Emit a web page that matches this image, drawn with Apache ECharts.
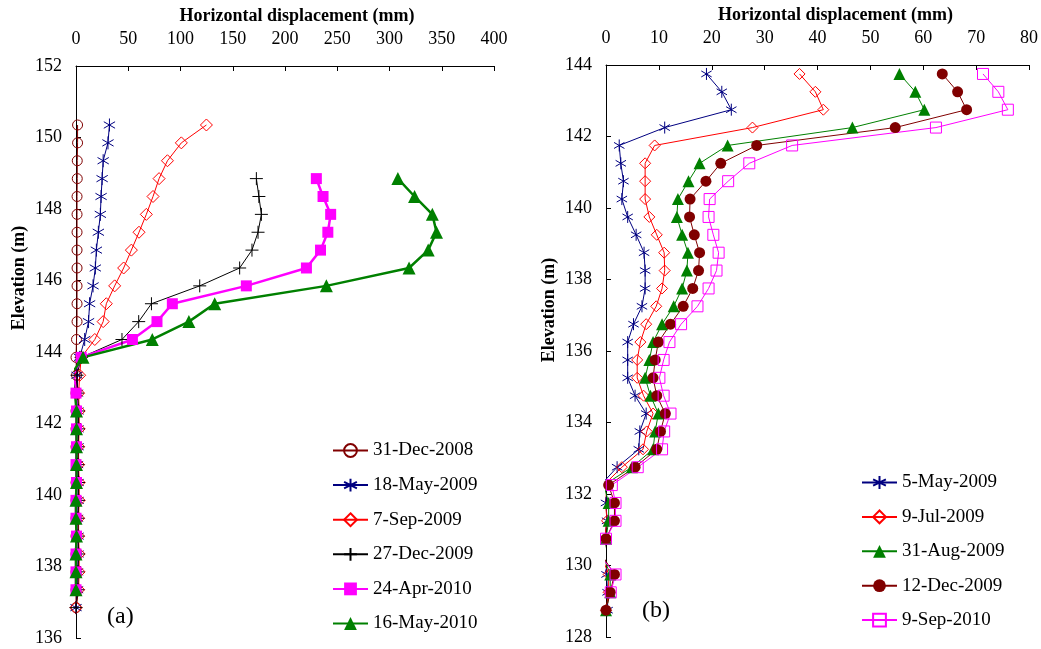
<!DOCTYPE html>
<html>
<head>
<meta charset="utf-8">
<script src="https://cdn.jsdelivr.net/npm/echarts@6/dist/echarts.min.js"></script>
<style>html,body{margin:0;padding:0;background:#fff;}#chart{width:1041px;height:649px;}</style>
</head>
<body>
<div id="chart"></div>
<script>
// ---------- Panel (a) ----------
const elevA = [150.35,149.85,149.35,148.85,148.35,147.85,147.35,146.85,146.35,145.85,145.35,144.85,144.35,143.85,143.35,142.85,142.35,141.85,141.35,140.85,140.35,139.85,139.35,138.85,138.35,137.85,137.35,136.85];
const a_31Dec2008 = [1.5,1.5,1.2,1.2,1,1,1,1,1,1,1,1,0.5,0,0.5,0,0,0,0,-1,0,0,0,0,0,0,0,0];
const a_18May2009 = [32,30.6,26,25,24,23.3,21.4,19.5,18.5,16.3,13,12,8.3,3.5,1,1.5,2,2,2,1.5,2,2,1.5,2,2,1.5,1.5,0];
const a_7Sep2009  = [124.8,100.8,87.5,79.5,73.7,67.3,60.3,53,45.6,37,29,26,18,5,3.5,2.5,3,3,2.5,2.5,3,3,2.5,2.5,3,3,2.5,0];
const a_27Dec2009 = [null,null,null,172.6,175,177.4,174.2,168.4,156.6,118.4,72.2,60,44,5,1,1.5,2.5,2.5,2,2,2.5,2.5,2,2,2.5,2,2,0];
const a_24Apr2010 = [null,null,null,230,236.4,243.7,241,234,220.5,163,92.2,77.5,54,5,-2,0,0.5,0.5,0.5,0,0.5,0,0,0.5,0,0,0,null];
const a_16May2010 = [null,null,null,308,324,341,345,337,318.7,239.6,132.7,108,73,6.7,-5,-1,0.5,0.5,0.5,0.5,0.5,0,0,0.5,0,0,0,null];

// ---------- Panel (b) ----------
const elevB = [143.75,143.25,142.75,142.25,141.75,141.25,140.75,140.25,139.75,139.25,138.75,138.25,137.75,137.25,136.75,136.25,135.75,135.25,134.75,134.25,133.75,133.25,132.75,132.25,131.75,131.25,130.75,130.25,129.75,129.25,128.75];
const b_5May2009  = [19,21.9,23.7,11.1,2.5,2.8,3.3,3.0,4.1,5.7,7.2,7.4,7.4,6.8,5.2,4.1,4.1,4.1,5.5,7.6,6.4,6.2,2.1,-1,0,0.2,-0.3,-1,0.1,0.3,0.3];
const b_9Jul2009  = [36.6,39.6,41.1,27.7,9.2,7.4,7.4,7.4,8.2,9.6,11.0,11.1,10.6,9.5,7.6,6.5,5.9,5.9,7.1,8.9,7.7,7.0,3.0,-0.4,-0.1,0.2,-0.3,-0.8,0.5,0.5,0];
const b_31Aug2009 = [55.5,58.5,60.2,46.6,23.0,17.7,15.6,13.6,13.4,14.4,15.5,15.3,14.4,12.8,10.6,8.9,8.2,7.4,8.4,9.9,9.3,8.9,4.9,-0.4,0.5,0.5,0,-0.5,0.8,0.8,0];
const b_12Dec2009 = [63.6,66.5,68.2,54.7,28.5,21.7,18.9,15.9,15.8,16.7,17.7,17.5,16.4,14.6,12.2,9.9,9.3,8.9,9.6,11.2,10.3,9.6,5.5,0.5,1.6,1.6,0,-0.6,1.6,0.8,0];
const b_9Sep2010  = [71.3,74.2,76.0,62.4,35.2,27.1,23.1,19.6,19.4,20.3,21.3,20.9,19.4,17.3,14.2,12.0,10.9,10.1,10.9,12.2,11.0,10.6,6.0,1.1,1.8,1.8,0,-1,1.8,0.9,null];

const FONT = 'Liberation Serif';
const ASTER = 'path://M0,-10L0,10M-8.66,-5L8.66,5M-8.66,5L8.66,-5';
const PLUS = 'path://M0,-10L0,10M-10,0L10,0';

function pts(xs, ys) {
  const out = [];
  xs.forEach((x, i) => { if (x !== null) out.push([x, ys[i]]); });
  return out;
}
function mk(name, xs, ys, idx, color, symbol, size, open, lw) {
  return {
    name, type: 'line', xAxisIndex: idx, yAxisIndex: idx,
    data: pts(xs, ys), symbol, symbolSize: size, symbolKeepAspect: true,
    clip: true,
    lineStyle: { color, width: lw },
    itemStyle: open ? { color: 'rgba(255,255,255,0)', borderColor: color, borderWidth: 1 }
                    : { color, borderColor: color, borderWidth: 0 },
    emphasis: { disabled: true },
    animation: false
  };
}

const xAxisCommon = (idx, max, interval, pad) => ({
  type: 'value', gridIndex: idx, position: 'top', min: 0, max, interval,
  name: 'Horizontal displacement (mm)', nameLocation: 'middle', nameGap: 39,
  nameTextStyle: { fontFamily: FONT, fontSize: 18, fontWeight: 'bold', color: '#000', padding: [0,0,0,pad] },
  axisLine: { show: true, lineStyle: { color: '#000', width: 1 } },
  axisTick: { show: true, inside: true, length: 5, lineStyle: { color: '#000' } },
  axisLabel: { fontFamily: FONT, fontSize: 18, color: '#000', margin: 18 },
  splitLine: { show: false }
});
const yAxisCommon = (idx, min, max, pad) => ({
  type: 'value', gridIndex: idx, min, max, interval: 2,
  name: 'Elevation (m)', nameLocation: 'middle', nameGap: 48,
  nameTextStyle: { fontFamily: FONT, fontSize: 18, fontWeight: 'bold', color: '#000', padding: [0,0,0,pad] },
  axisLine: { show: true, lineStyle: { color: '#000', width: 1 } },
  axisTick: { show: true, inside: true, length: 5, lineStyle: { color: '#000' } },
  axisLabel: { fontFamily: FONT, fontSize: 18, color: '#000', margin: 14 },
  splitLine: { show: false }
});

const chart = echarts.init(document.getElementById('chart'), null, { renderer: 'canvas' });
chart.setOption({
  backgroundColor: '#fff',
  animation: false,
  grid: [
    { left: 76, right: 547, top: 66, bottom: 11 },
    { left: 606, right: 12, top: 65, bottom: 12 }
  ],
  xAxis: [ xAxisCommon(0, 400, 50, 24), xAxisCommon(1, 80, 10, 36) ],
  yAxis: [ yAxisCommon(0, 136, 152, 148), yAxisCommon(1, 128, 144, 82) ],
  legend: [
    {
      data: ['31-Dec-2008','18-May-2009','7-Sep-2009','27-Dec-2009','24-Apr-2010','16-May-2010'],
      orient: 'vertical', left: 332, top: 441, padding: 0, itemWidth: 35, itemHeight: 16, itemGap: 15.6,
      textStyle: { fontFamily: FONT, fontSize: 19, color: '#000' }, selectedMode: false
    },
    {
      data: ['5-May-2009','9-Jul-2009','31-Aug-2009','12-Dec-2009','9-Sep-2010'],
      orient: 'vertical', left: 861, top: 473, padding: 0, itemWidth: 35, itemHeight: 16, itemGap: 15.4,
      textStyle: { fontFamily: FONT, fontSize: 19, color: '#000' }, selectedMode: false
    }
  ],
  graphic: [
    { type: 'text', left: 107, top: 605, style: { text: '(a)', font: '24px "Liberation Serif"', fill: '#000' } },
    { type: 'text', left: 642, top: 599, style: { text: '(b)', font: '24px "Liberation Serif"', fill: '#000' } }
  ],
  series: [
    mk('31-Dec-2008', a_31Dec2008, elevA, 0, '#800000', 'circle', 10, true, 1),
    mk('18-May-2009', a_18May2009, elevA, 0, '#000080', ASTER, 13, true, 1),
    mk('7-Sep-2009', a_7Sep2009, elevA, 0, '#FF0000', 'diamond', 12, true, 1),
    mk('27-Dec-2009', a_27Dec2009, elevA, 0, '#000000', PLUS, 13, true, 1),
    mk('24-Apr-2010', a_24Apr2010, elevA, 0, '#FF00FF', 'rect', 11, false, 2.5),
    mk('16-May-2010', a_16May2010, elevA, 0, '#008000', 'triangle', 13, false, 2.5),
    mk('5-May-2009', b_5May2009, elevB, 1, '#000080', ASTER, 12, true, 1),
    mk('9-Jul-2009', b_9Jul2009, elevB, 1, '#FF0000', 'diamond', 11, true, 1),
    mk('31-Aug-2009', b_31Aug2009, elevB, 1, '#008000', 'triangle', 12, false, 1),
    mk('12-Dec-2009', b_12Dec2009, elevB, 1, '#800000', 'circle', 11, false, 1),
    mk('9-Sep-2010', b_9Sep2010, elevB, 1, '#FF00FF', 'rect', 11, true, 1)
  ]
});
</script>
</body>
</html>
